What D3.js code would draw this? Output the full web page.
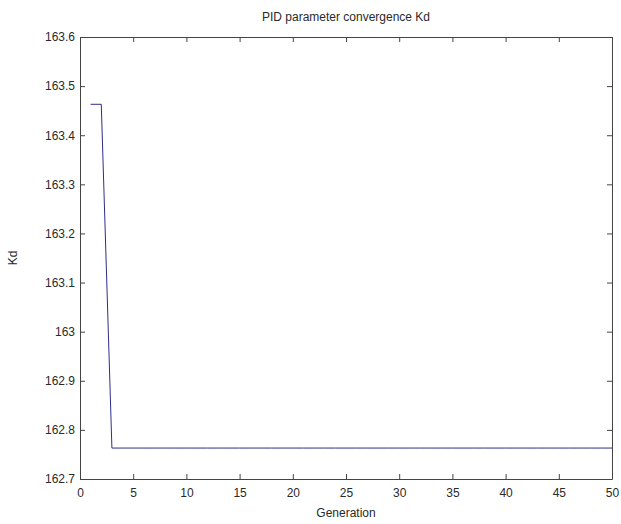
<!DOCTYPE html>
<html>
<head>
<meta charset="utf-8">
<script src="https://cdn.jsdelivr.net/npm/d3@7"></script>
<style>
  body { margin: 0; background: #fff; }
  text { font-family: "Liberation Sans", Arial, sans-serif; fill: #2a2a2a; }
</style>
</head>
<body>
<div id="chart"></div>
<script>
// generations and Kd values
const generations = d3.range(1, 51)
const kdValues = generations.map(g => g <= 2 ? 163.463 : 162.763)

const xTicks = [0, 5, 10, 15, 20, 25, 30, 35, 40, 45, 50]
const yTicks = [162.7, 162.8, 162.9, 163, 163.1, 163.2, 163.3, 163.4, 163.5, 163.6]

const width = 621
const height = 524
const margin = { top: 37, right: 9, bottom: 45, left: 80 }

const svg = d3.select("#chart").append("svg")
  .attr("width", width)
  .attr("height", height)

const x = d3.scaleLinear().domain([0, 50]).range([margin.left, width - margin.right])
const y = d3.scaleLinear().domain([162.7, 163.6]).range([height - margin.bottom, margin.top])

const fmt = d => d3.format(".1f")(d).replace(/\.0$/, "")

// bottom / top axes, ticks pointing inward
svg.append("g")
  .attr("transform", `translate(0,${y(162.7)})`)
  .call(d3.axisBottom(x).tickValues(xTicks).tickSizeInner(-5).tickSizeOuter(0).tickPadding(9))
svg.append("g")
  .attr("transform", `translate(0,${y(163.6)})`)
  .call(d3.axisTop(x).tickValues(xTicks).tickSizeInner(-5).tickSizeOuter(0).tickFormat(""))

svg.append("g")
  .attr("transform", `translate(${x(0)},0)`)
  .call(d3.axisLeft(y).tickValues(yTicks).tickSizeInner(-5).tickSizeOuter(0).tickPadding(5).tickFormat(fmt))
svg.append("g")
  .attr("transform", `translate(${x(50)},0)`)
  .call(d3.axisRight(y).tickValues(yTicks).tickSizeInner(-5).tickSizeOuter(0).tickFormat(""))

svg.selectAll(".domain").attr("stroke", "#444")
svg.selectAll(".tick line").attr("stroke", "#444")
svg.selectAll(".tick text")
  .attr("font-size", 12)
  .attr("font-family", "Liberation Sans, Arial, sans-serif")
  .attr("fill", "#2a2a2a")

const line = d3.line()
  .x((d, i) => x(generations[i]))
  .y(d => y(d))

svg.append("path")
  .datum(kdValues)
  .attr("fill", "none")
  .attr("stroke", "#2e2e8a")
  .attr("stroke-width", 1)
  .attr("d", line)

svg.append("text")
  .attr("x", (x(0) + x(50)) / 2)
  .attr("y", 21)
  .attr("text-anchor", "middle")
  .attr("font-size", 12)
  .text("PID parameter convergence Kd")

svg.append("text")
  .attr("x", (x(0) + x(50)) / 2)
  .attr("y", 517)
  .attr("text-anchor", "middle")
  .attr("font-size", 12)
  .text("Generation")

svg.append("text")
  .attr("transform", `translate(17,${(y(162.7) + y(163.6)) / 2}) rotate(-90)`)
  .attr("text-anchor", "middle")
  .attr("font-size", 12)
  .text("Kd")
</script>
</body>
</html>
